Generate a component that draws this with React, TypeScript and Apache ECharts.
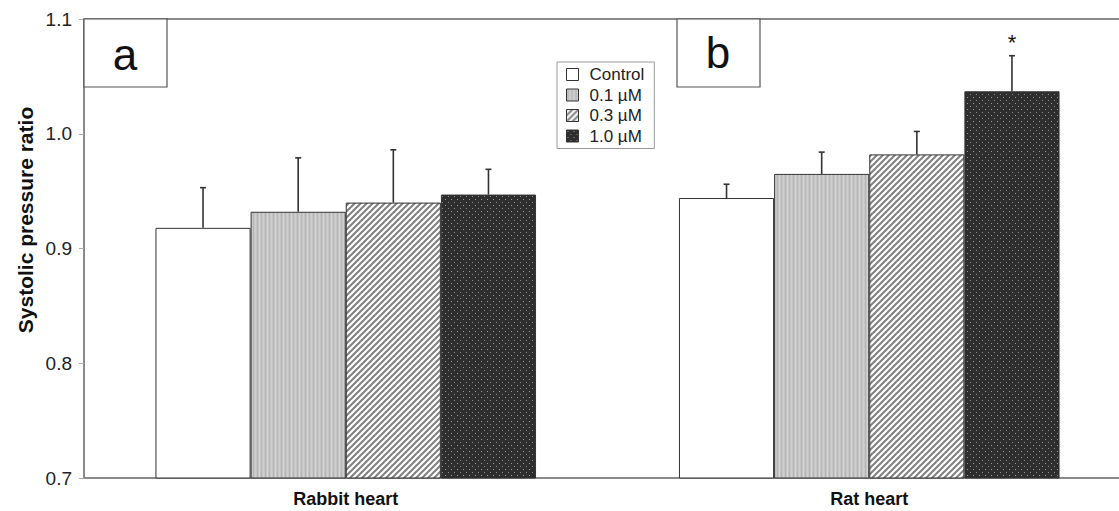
import React, { useEffect, useRef } from "react";
import * as echarts from "echarts";

const categories = ["Rabbit heart", "Rat heart"];
const seriesNames = ["Control", "0.1 µM", "0.3 µM", "1.0 µM"];
const values = [
  [0.918, 0.944],
  [0.932, 0.965],
  [0.940, 0.982],
  [0.947, 1.037],
];
const errors = [
  [0.035, 0.012],
  [0.047, 0.019],
  [0.046, 0.020],
  [0.022, 0.031],
];
const significant = [
  [false, false],
  [false, false],
  [false, false],
  [false, true],
];
const yTicks = [0.7, 0.8, 0.9, 1.0, 1.1];

const svgUrl = (s: string) => "data:image/svg+xml;charset=utf-8," + encodeURIComponent(s);

const patVertical = svgUrl(
  `<svg xmlns="http://www.w3.org/2000/svg" width="8" height="8">` +
    `<rect width="8" height="8" fill="#c6c6c6"/>` +
    `<rect x="1" width="1" height="8" fill="#b4b4b4"/>` +
    `<rect x="3" width="1" height="8" fill="#d2d2d2"/>` +
    `<rect x="5" width="1" height="8" fill="#b8b8b8"/>` +
    `<rect x="7" width="1" height="8" fill="#cfcfcf"/>` +
    `</svg>`
);
const patHatch = svgUrl(
  `<svg xmlns="http://www.w3.org/2000/svg" width="6" height="6">` +
    `<rect width="6" height="6" fill="#ffffff"/>` +
    `<g stroke="#808080" stroke-width="2">` +
    `<line x1="0" y1="6" x2="6" y2="0"/>` +
    `<line x1="-3" y1="3" x2="3" y2="-3"/>` +
    `<line x1="3" y1="9" x2="9" y2="3"/>` +
    `</g></svg>`
);
const patDots = svgUrl(
  `<svg xmlns="http://www.w3.org/2000/svg" width="6" height="6">` +
    `<rect width="6" height="6" fill="#2e2e2e"/>` +
    `<rect x="1" y="1" width="1" height="1" fill="#9a9a9a"/>` +
    `<rect x="4" y="4" width="1" height="1" fill="#8a8a8a"/>` +
    `</svg>`
);

const fills: any[] = [
  "#ffffff",
  { image: patVertical, repeat: "repeat", imageWidth: 8, imageHeight: 8 },
  { image: patHatch, repeat: "repeat", imageWidth: 6, imageHeight: 6 },
  { image: patDots, repeat: "repeat", imageWidth: 6, imageHeight: 6 },
];

const CATGAP = 0.273;
const FONT = "Liberation Sans, Arial, sans-serif";

export default function App() {
  const ref = useRef<HTMLDivElement>(null);
  useEffect(() => {
    if (!ref.current) return;
    const chart = echarts.init(ref.current, null, { renderer: "svg" });

    const barSeries = seriesNames.map((name, i) => ({
      name,
      type: "bar",
      data: values[i],
      barGap: "0%",
      barCategoryGap: CATGAP * 100 + "%",
      itemStyle: { color: fills[i], borderColor: "#333", borderWidth: 1 },
      z: 2,
    }));

    const errData: any[] = [];
    values.forEach((row, si) =>
      row.forEach((v, ci) => errData.push([ci, v, v + errors[si][ci], si, significant[si][ci] ? 1 : 0]))
    );

    const errSeries = {
      type: "custom",
      name: "err",
      data: errData,
      z: 3,
      renderItem: (params: any, api: any) => {
        const ci = api.value(0);
        const si = api.value(3);
        const band = api.size([1, 0])[0];
        const bw = (band * (1 - CATGAP)) / 4;
        const base = api.coord([ci, api.value(1)]);
        const top = api.coord([ci, api.value(2)]);
        const x = base[0] + (si - 1.5) * bw;
        const children: any[] = [
          { type: "line", shape: { x1: x, y1: base[1], x2: x, y2: top[1] }, style: { stroke: "#333", lineWidth: 1.6 } },
          { type: "line", shape: { x1: x - 3, y1: top[1], x2: x + 3, y2: top[1] }, style: { stroke: "#333", lineWidth: 1.6 } },
        ];
        if (api.value(4)) {
          children.push({
            type: "text",
            style: { text: "*", x, y: top[1] - 2, align: "center", verticalAlign: "bottom", fontSize: 22, fontFamily: FONT, fill: "#111" },
          });
        }
        return { type: "group", children };
      },
    };

    chart.setOption({
      animation: false,
      backgroundColor: "#ffffff",
      grid: { left: 84, top: 19, right: 0, bottom: 33 },
      legend: {
        data: seriesNames,
        orient: "vertical",
        left: 557,
        top: 62,
        padding: [4, 10, 4, 9],
        itemGap: 3.5,
        itemWidth: 12,
        itemHeight: 12,
        icon: "rect",
        borderColor: "#999",
        borderWidth: 1,
        textStyle: { fontSize: 17, fontFamily: FONT, color: "#222", padding: [0, 0, 0, 6] },
        itemStyle: { borderColor: "#333", borderWidth: 1 },
      },
      xAxis: {
        type: "category",
        data: categories,
        axisTick: { show: false },
        axisLine: { lineStyle: { color: "#8a8a8a", width: 2 } },
        axisLabel: { fontSize: 18, fontWeight: "bold", fontFamily: FONT, color: "#111", margin: 12 },
      },
      yAxis: {
        type: "value",
        min: yTicks[0],
        max: yTicks[yTicks.length - 1],
        interval: 0.1,
        splitLine: { show: false },
        axisLine: { show: true, lineStyle: { color: "#8a8a8a", width: 2 } },
        axisTick: { show: true, length: 5, lineStyle: { color: "#aaa" } },
        axisLabel: {
          fontSize: 19,
          fontFamily: FONT,
          color: "#222",
          margin: 12,
          formatter: (v: number) => v.toFixed(1),
        },
      },
      graphic: [
        { type: "line", shape: { x1: 84, y1: 19, x2: 1131, y2: 19 }, style: { stroke: "#8a8a8a", lineWidth: 2 }, z: 10 },
        { type: "rect", shape: { x: 84, y: 19, width: 83, height: 68 }, style: { fill: "#fff", stroke: "#555", lineWidth: 1.2 }, z: 10 },
        { type: "text", x: 125, y: 54, style: { text: "a", fontSize: 44, fontFamily: FONT, fill: "#111", align: "center", verticalAlign: "middle" }, z: 11 },
        { type: "rect", shape: { x: 677, y: 19, width: 83, height: 68 }, style: { fill: "#fff", stroke: "#555", lineWidth: 1.2 }, z: 10 },
        { type: "text", x: 718, y: 52, style: { text: "b", fontSize: 44, fontFamily: FONT, fill: "#111", align: "center", verticalAlign: "middle" }, z: 11 },
        {
          type: "text",
          x: 25,
          y: 220,
          rotation: Math.PI / 2,
          style: { text: "Systolic pressure ratio", fontSize: 21, fontWeight: "bold", fontFamily: FONT, fill: "#111", align: "center", verticalAlign: "middle" },
        },
      ],
      series: [...barSeries, errSeries],
    });
    return () => chart.dispose();
  }, []);
  return (
    <div style={{ position: "fixed", left: 0, top: 0, width: 1119, height: 511, overflow: "hidden" }}>
      <div ref={ref} style={{ width: 1131, height: 511 }} />
    </div>
  );
}
